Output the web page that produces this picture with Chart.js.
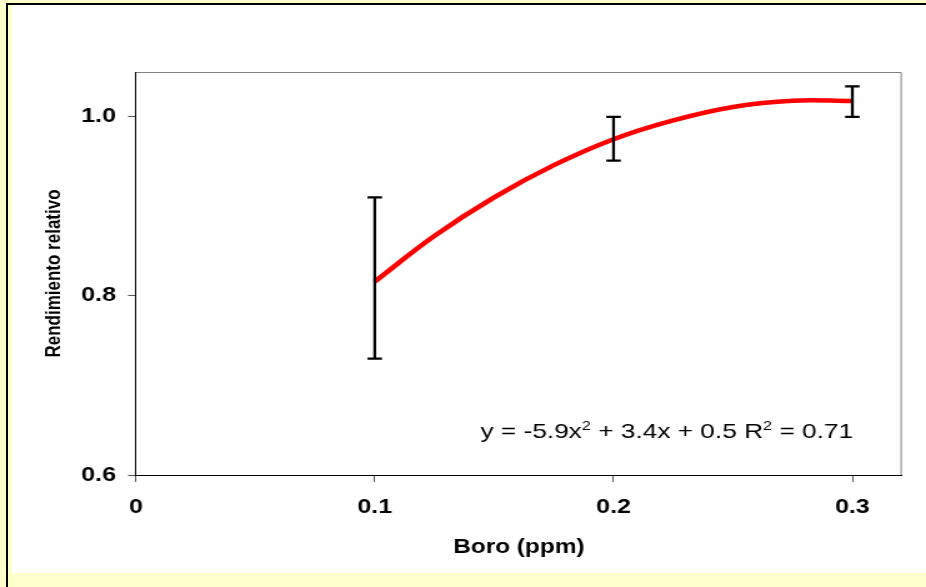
<!DOCTYPE html>
<html>
<head>
<meta charset="utf-8">
<script src="https://cdn.jsdelivr.net/npm/chart.js@4"></script>
<style>
  html, body { margin: 0; padding: 0; background: #FFFFCC; width: 926px; height: 587px; overflow: hidden; }
  #lineLeft { position: absolute; left: 6px; top: 3px; width: 2px; height: 584px; background: #000; }
  #lineTop { position: absolute; left: 6px; top: 3px; width: 920px; height: 2px; background: #000; }
  #panel { position: absolute; left: 12px; top: 5px; width: 914px; height: 568px; background: #fff; }
  #wrap { position: absolute; left: 0; top: 0; width: 741px; height: 587px; transform: scaleX(1.2497); transform-origin: 0 0; }
</style>
</head>
<body>
<div id="lineLeft"></div>
<div id="lineTop"></div>
<div id="panel"></div>
<div id="wrap"><canvas id="chart" width="741" height="587"></canvas></div>
<script>
// error bars at each boron dose
const boroPpm = [0.1, 0.2, 0.3];
const barLow = [0.730, 0.951, 1.000];
const barHigh = [0.910, 1.000, 1.034];

// fitted curve
const curveX = [0.1, 0.125, 0.15, 0.175, 0.2, 0.225, 0.25, 0.275, 0.3];
const curveY = [0.816, 0.867, 0.910, 0.946, 0.975, 0.996, 1.011, 1.018, 1.0175];

const xTicks = [0, 0.1, 0.2, 0.3];
const xTickLabels = ["0", "0.1", "0.2", "0.3"];
const yTicks = [0.6, 0.8, 1.0];
const yTickLabels = ["0.6", "0.8", "1.0"];

// equation text, [text, superscript?]
const equationParts = [
  ["y = -5.9x", false],
  ["2", true],
  [" + 3.4x + 0.5 R", false],
  ["2", true],
  [" = 0.71", false],
];

const FONT = "'Liberation Sans', Arial, sans-serif";
Chart.defaults.font.family = FONT;
Chart.defaults.color = "#000";

// gray top/right edges of the plot box
const frameBox = {
  id: "frameBox",
  beforeDraw(chart) {
    const { ctx, chartArea: a } = chart;
    ctx.save();
    ctx.strokeStyle = "#808080";
    ctx.lineWidth = 1;
    ctx.beginPath();
    ctx.moveTo(a.left, a.top + 0.5);
    ctx.lineTo(a.right - 0.5, a.top + 0.5);
    ctx.lineTo(a.right - 0.5, a.bottom);
    ctx.stroke();
    ctx.restore();
  },
};

// whiskers + equation label
const errorBars = {
  id: "errorBars",
  afterDatasetsDraw(chart) {
    const { ctx, scales, chartArea: a } = chart;
    const xs = scales.x, ys = scales.y;
    ctx.save();
    ctx.strokeStyle = "#000";
    ctx.lineWidth = 2.3;
    const cap = 5.8;
    boroPpm.forEach((b, i) => {
      const px = xs.getPixelForValue(b);
      const top = ys.getPixelForValue(barHigh[i]);
      const bot = ys.getPixelForValue(barLow[i]);
      ctx.beginPath();
      ctx.moveTo(px, top);
      ctx.lineTo(px, bot);
      ctx.moveTo(px - cap, top);
      ctx.lineTo(px + cap, top);
      ctx.moveTo(px - cap, bot);
      ctx.lineTo(px + cap, bot);
      ctx.stroke();
    });

    // equation, right aligned near the bottom right of the plot
    const mainFont = "21px " + FONT;
    const supFont = "13px " + FONT;
    let total = 0;
    equationParts.forEach(([t, sup]) => {
      ctx.font = sup ? supFont : mainFont;
      total += ctx.measureText(t).width;
    });
    let x = a.right - 39 - total;
    const base = a.bottom - 37;
    ctx.fillStyle = "#000";
    ctx.textAlign = "left";
    ctx.textBaseline = "alphabetic";
    equationParts.forEach(([t, sup]) => {
      ctx.font = sup ? supFont : mainFont;
      ctx.fillText(t, x, sup ? base - 8 : base);
      x += ctx.measureText(t).width;
    });
    ctx.restore();
  },
};

new Chart(document.getElementById("chart"), {
  type: "line",
  data: {
    datasets: [
      {
        label: "ajuste",
        data: curveX.map((x, i) => ({ x: x, y: curveY[i] })),
        borderColor: "#FF0000",
        borderWidth: 4.5,
        pointRadius: 0,
        fill: false,
        tension: 0.4,
      },
    ],
  },
  options: {
    responsive: false,
    devicePixelRatio: 1,
    animation: false,
    layout: { padding: { left: 0, right: 19.4, top: 72, bottom: 0 } },
    plugins: {
      legend: { display: false },
      tooltip: { enabled: false },
    },
    scales: {
      x: {
        type: "linear",
        min: 0,
        max: 0.3207,
        afterBuildTicks: (axis) => { axis.ticks = xTicks.map((v) => ({ value: v })); },
        afterFit: (axis) => { axis.height = 112; },
        ticks: {
          callback: (v, i) => xTickLabels[i],
          font: { size: 20, weight: "bold" },
          padding: 13,
          maxRotation: 0,
        },
        grid: { drawOnChartArea: false, drawTicks: true, tickLength: 7, color: "#555" },
        border: { display: true, color: "#000", width: 1 },
        title: {
          display: true,
          text: "Boro (ppm)",
          font: { size: 19.5, weight: "bold" },
          padding: { top: 0, bottom: 27.3 },
        },
      },
      y: {
        min: 0.6,
        max: 1.05,
        afterBuildTicks: (axis) => { axis.ticks = yTicks.map((v) => ({ value: v })); },
        afterFit: (axis) => { axis.width = 108.8; },
        ticks: {
          callback: (v, i) => yTickLabels[i],
          font: { size: 20, weight: "bold" },
          padding: 9.6,
        },
        grid: { drawOnChartArea: false, drawTicks: true, tickLength: 6.4, color: "#555" },
        border: { display: true, color: "#000", width: 1 },
        title: {
          display: true,
          text: "Rendimiento relativo",
          font: { size: 17, weight: "bold" },
          padding: { top: 33, bottom: 0 },
        },
      },
    },
  },
  plugins: [frameBox, errorBars],
});
</script>
</body>
</html>
